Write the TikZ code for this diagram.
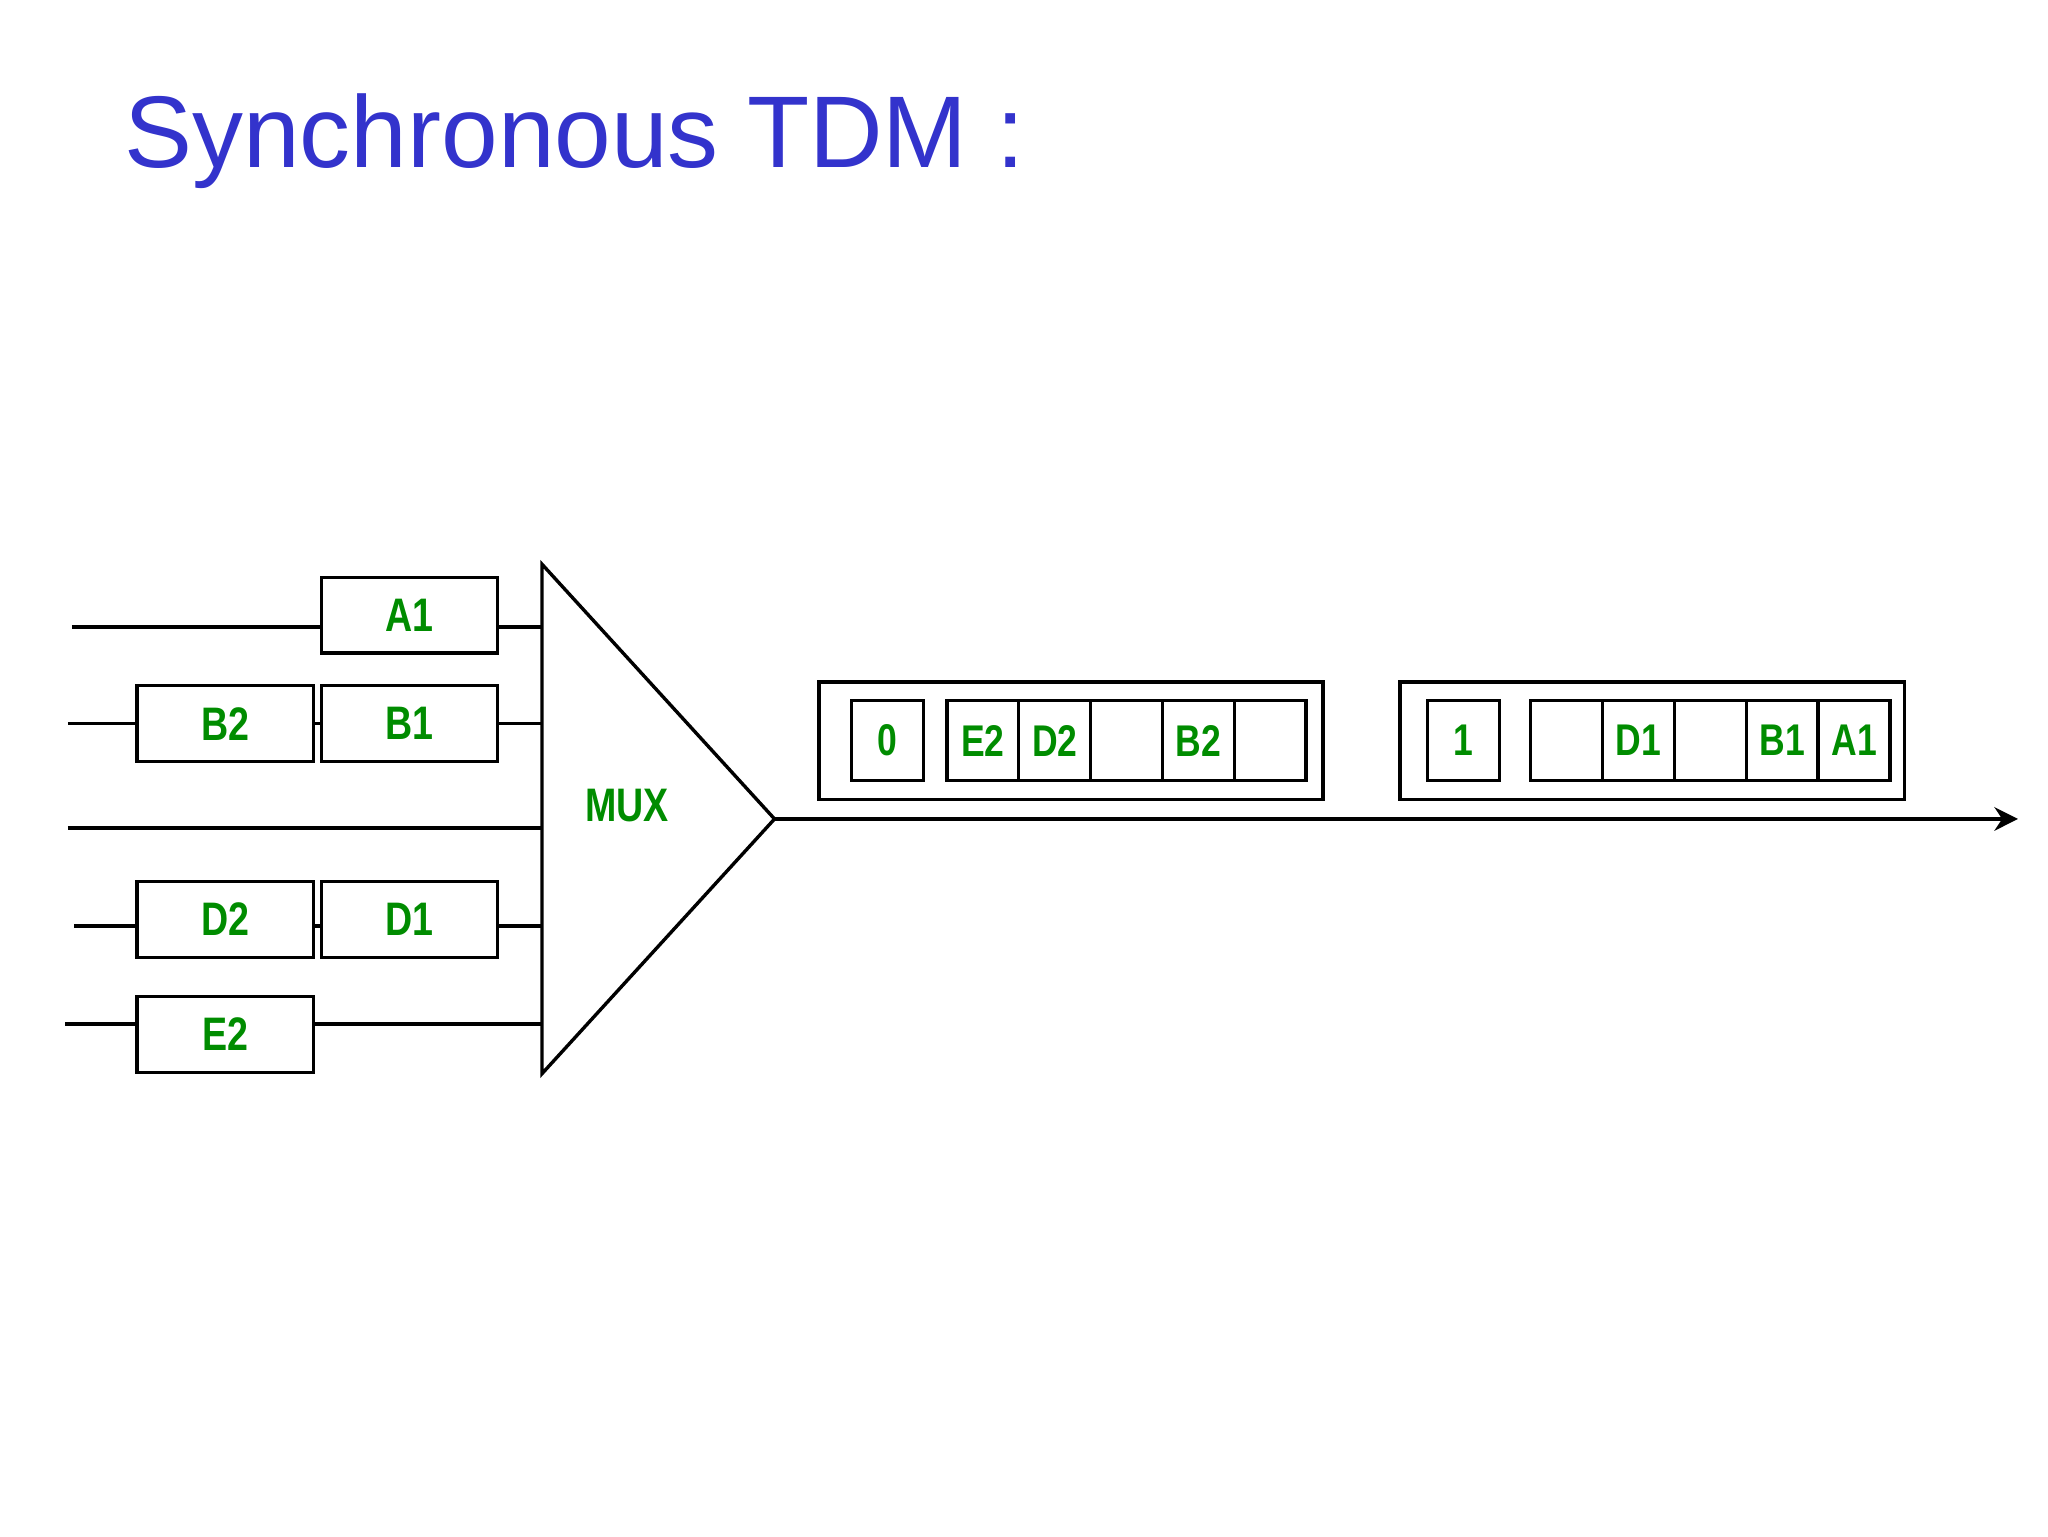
\documentclass[tikz,border=0pt]{standalone}
\usepackage{fontspec}
\usetikzlibrary{arrows.meta}
\setmainfont{Liberation Sans}
\newfontfamily\narrowfont[FakeStretch=0.8]{Liberation Sans}
\definecolor{ttl}{RGB}{51,51,204}
\definecolor{grn}{RGB}{0,140,0}
\tikzset{x=1pt,y=-1pt,
 cell/.style={draw,line width=2.6pt,minimum width=135pt,minimum height=58pt,inner sep=0pt,font=\narrowfont\fontsize{36}{36}\selectfont\bfseries\color{grn}},
 slot/.style={draw,line width=2.6pt,minimum width=55pt,minimum height=61pt,inner sep=0pt,font=\narrowfont\fontsize{34}{34}\selectfont\bfseries\color{grn}},
 frame/.style={draw,line width=2.6pt,minimum width=386pt,minimum height=90pt,inner sep=0pt},
 wire/.style={line width=2.6pt}}
\begin{document}
\begin{tikzpicture}
\useasboundingbox (0,0) rectangle (1568,1176);
\node[anchor=base west,text=ttl,font=\fontsize{78}{78}\selectfont,inner sep=0pt] (title) at (95,128) {Synchronous TDM :};
% input cells
\node[cell] (A1) at (313.5,471) {A1};
\node[cell] (B2) at (172.5,554) {B2};
\node[cell] (B1) at (313.5,554) {B1};
\node[cell] (D2) at (172.5,704) {D2};
\node[cell] (D1) at (313.5,704) {D1};
\node[cell] (E2) at (172.5,792) {E2};
% mux
\coordinate (t1) at (415,432); \coordinate (t2) at (415,822); \coordinate (t3) at (593,627);
\draw[wire,line join=miter] (t1) -- (t2) -- (t3) -- cycle;
\node[font=\narrowfont\fontsize{36}{36}\selectfont\bfseries\color{grn}] (mux) at (480,617) {MUX};
% wires
\coordinate (s1) at (55,480); \coordinate (s2) at (52,554); \coordinate (s3) at (52,634);
\coordinate (s4) at (57,709); \coordinate (s5) at (50,784);
\draw[wire] (s1) -- (A1.west|-s1); \draw[wire] (A1.east|-s1) -- (415,480);
\draw[wire] (s2) -- (B2.west); \draw[wire] (B2.east) -- (B1.west); \draw[wire] (B1.east) -- (415,554);
\draw[wire] (s3) -- (415,634);
\draw[wire] (s4) -- (D2.west|-s4); \draw[wire] (D2.east|-s4) -- (D1.west|-s4); \draw[wire] (D1.east|-s4) -- (415,709);
\draw[wire] (s5) -- (E2.west|-s5); \draw[wire] (E2.east|-s5) -- (415,784);
% output
\coordinate (out) at (1545,627);
\draw[wire,-{Stealth[length=18pt,width=18pt]}] (t3) -- (out);
% frames
\node[frame] (F1) at (820,567) {};
\node[frame] (F2) at (1265,567) {};
\node[slot] (c0) at (679.5,567) {0};
\node[slot] (e2) at (752.5,567) {E2};
\node[slot] (d2) at (807.5,567) {D2};
\node[slot] (x1) at (862.5,567) {};
\node[slot] (b2) at (917.5,567) {B2};
\node[slot] (x2) at (972.5,567) {};
\node[slot] (c1) at (1120.5,567) {1};
\node[slot] (x3) at (1199.5,567) {};
\node[slot] (d1) at (1254.5,567) {D1};
\node[slot] (x4) at (1309.5,567) {};
\node[slot] (b1) at (1364.5,567) {B1};
\node[slot] (a1) at (1419.5,567) {A1};
\end{tikzpicture}
\end{document}
